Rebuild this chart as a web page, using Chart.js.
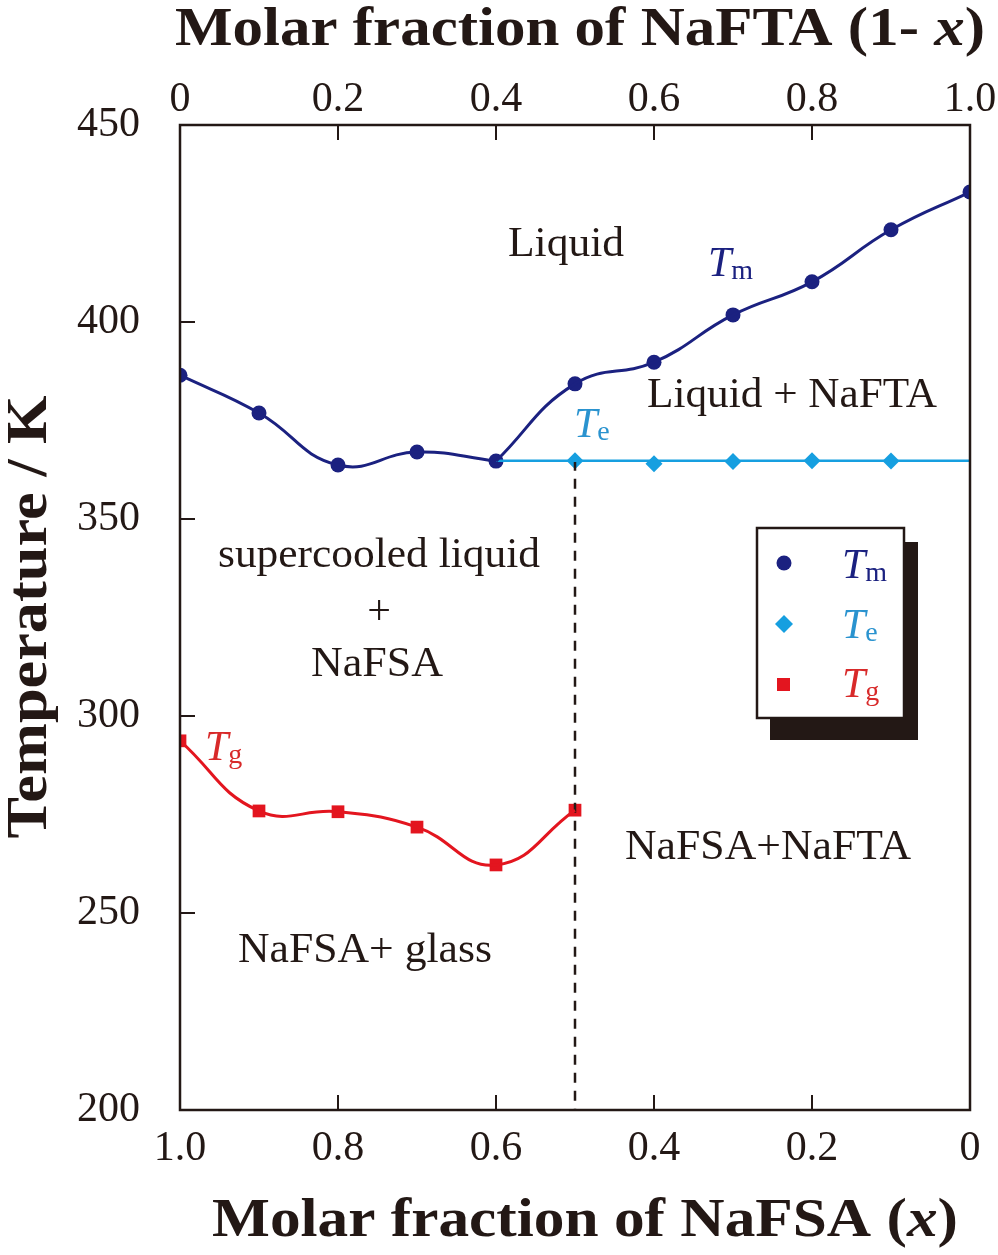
<!DOCTYPE html>
<html>
<head>
<meta charset="UTF-8">
<title>NaFSA-NaFTA phase diagram</title>
<style>
body{
	margin: 0;
	background-color: white;
}
#wrap{
	width: 998px;
	height: 1255px;
}
</style>
</head>
<body>
<div id="wrap"><canvas id="myChart"></canvas></div>
<script src="https://cdn.jsdelivr.net/npm/chart.js@4.4.1/dist/chart.umd.min.js"></script>
<script>
// x = molar fraction of NaFSA
const xTm = [1.0, 0.9, 0.8, 0.7, 0.6, 0.5, 0.4, 0.3, 0.2, 0.1, 0.0];
const tm = [386.5, 376.9, 363.7, 367.0, 364.7, 384.3, 389.8, 401.8, 410.2, 423.4, 433.0];
const xTe = [0.5, 0.4, 0.3, 0.2, 0.1];
const te = [364.8, 364.0, 364.6, 364.8, 364.7];
const teLineX = [0.6, 0.0];
const teLevel = 364.8;
const xTg = [1.0, 0.9, 0.8, 0.7, 0.6, 0.5];
const tg = [293.7, 275.9, 275.7, 271.8, 262.2, 276.1];
const dashX = 0.5;
const dashY = [364.8, 200];
const xTicks = [0, 0.2, 0.4, 0.6, 0.8, 1.0];
const yTicks = [200, 250, 300, 350, 400, 450];

const navy = '#1b2180';
const sky = '#169fe0';
const red = '#e3151f';
const ink = '#231815';
const serif = '"Liberation Serif", "Times New Roman", serif';

function pts(xs, ys){
	return xs.map(function(x, i){ return {x: x, y: ys[i]}; });
}
function fmt(v){
	if(v == 0) return '0';
	return Number(v).toFixed(1);
}

// draws runs of text; if width is given, squeezes/stretches to that width
function drawRuns(ctx, runs, x, y, align, width){
	let w = 0;
	runs.forEach(function(r){ ctx.font = r.font; r.w = ctx.measureText(r.t).width; w += r.w; });
	let sx = width ? width / w : 1;
	ctx.save();
	ctx.translate(x, y);
	ctx.scale(sx, 1);
	let cx = align == 'center' ? -w / 2 : 0;
	ctx.textBaseline = 'alphabetic';
	ctx.textAlign = 'left';
	runs.forEach(function(r){
		ctx.font = r.font;
		ctx.fillStyle = r.color || ink;
		ctx.fillText(r.t, cx, r.dy || 0);
		cx += r.w;
	});
	ctx.restore();
}

function sym(ctx, main, sub, x, y, color){
	drawRuns(ctx, [
		{t: main, font: 'italic 42px ' + serif, color: color},
		{t: sub, font: '28px ' + serif, color: color, dy: 3}
	], x, y, 'left');
}

const decor = {
	id: 'decor',
	afterDatasetsDraw(chart){
		const ctx = chart.ctx;
		const a = chart.chartArea;
		const sx = chart.scales.x, s2 = chart.scales.x2, sy = chart.scales.y;
		ctx.save();
		ctx.strokeStyle = ink;
		ctx.lineWidth = 2.5;
		ctx.strokeRect(a.left, a.top, a.right - a.left, a.bottom - a.top);
		ctx.lineWidth = 2;
		ctx.beginPath();
		xTicks.forEach(function(v){
			if(v == 0 || v == 1) return;
			let px = sx.getPixelForValue(v);
			ctx.moveTo(px, a.bottom); ctx.lineTo(px, a.bottom - 15);
			let qx = s2.getPixelForValue(v);
			ctx.moveTo(qx, a.top); ctx.lineTo(qx, a.top + 15);
		});
		yTicks.forEach(function(v){
			if(v == 200 || v == 450) return;
			let py = sy.getPixelForValue(v);
			ctx.moveTo(a.left, py); ctx.lineTo(a.left + 15, py);
		});
		ctx.stroke();

		// region labels
		const reg = '42px ' + serif;
		drawRuns(ctx, [{t: 'Liquid', font: reg}], 566, 256, 'center', 116);
		drawRuns(ctx, [{t: 'Liquid + NaFTA', font: reg}], 792, 407, 'center', 290);
		drawRuns(ctx, [{t: 'supercooled liquid', font: reg}], 379, 567, 'center', 322);
		drawRuns(ctx, [{t: '+', font: reg}], 379, 624, 'center');
		drawRuns(ctx, [{t: 'NaFSA', font: reg}], 377, 676, 'center', 132);
		drawRuns(ctx, [{t: 'NaFSA+ glass', font: reg}], 365, 962, 'center', 254);
		drawRuns(ctx, [{t: 'NaFSA+NaFTA', font: reg}], 768, 859, 'center', 286);

		sym(ctx, 'T', 'm', 708, 276, navy);
		sym(ctx, 'T', 'e', 574, 437, '#2a93cf');
		sym(ctx, 'T', 'g', 205, 760, '#d82a2a');

		// legend box with shadow
		ctx.fillStyle = ink;
		ctx.fillRect(770, 542, 148, 198);
		ctx.fillStyle = 'white';
		ctx.fillRect(757, 528, 147, 190);
		ctx.lineWidth = 2.5;
		ctx.strokeStyle = ink;
		ctx.strokeRect(757, 528, 147, 190);
		ctx.fillStyle = navy;
		ctx.beginPath(); ctx.arc(784, 563, 7.5, 0, Math.PI * 2); ctx.fill();
		ctx.fillStyle = sky;
		ctx.beginPath();
		ctx.moveTo(784, 615); ctx.lineTo(793, 624); ctx.lineTo(784, 633); ctx.lineTo(775, 624);
		ctx.closePath(); ctx.fill();
		ctx.fillStyle = red;
		ctx.fillRect(777, 678, 13, 13);
		sym(ctx, 'T', 'm', 842, 578, navy);
		sym(ctx, 'T', 'e', 842, 638, '#2a93cf');
		sym(ctx, 'T', 'g', 842, 697, '#d82a2a');

		// axis titles
		const bold = 'bold 54px ' + serif;
		const boldIt = 'italic bold 54px ' + serif;
		drawRuns(ctx, [
			{t: 'Molar fraction of NaFTA (1- ', font: bold},
			{t: 'x', font: boldIt},
			{t: ')', font: bold}
		], 580, 45, 'center', 810);
		drawRuns(ctx, [
			{t: 'Molar fraction of NaFSA (', font: bold},
			{t: 'x', font: boldIt},
			{t: ')', font: bold}
		], 585, 1236, 'center', 746);
		ctx.save();
		ctx.translate(46, 617);
		ctx.rotate(-Math.PI / 2);
		drawRuns(ctx, [{t: 'Temperature / K', font: 'bold 58px ' + serif}], 0, 0, 'center', 443);
		ctx.restore();
		ctx.restore();
	}
};

function noSidePad(s){
	s.paddingLeft = 0;
	s.paddingRight = 0;
}

Chart.defaults.font.family = serif;
Chart.defaults.color = ink;

const ctx = document.getElementById('myChart').getContext('2d');
const chart = new Chart(ctx, {
	type: 'scatter',
	data: {
		datasets: [
			{ // Tm curve, NaFSA-rich side
				type: 'line',
				data: pts(xTm.slice(0, 5), tm.slice(0, 5)),
				borderColor: navy, borderWidth: 3, pointRadius: 0, tension: 0.45, fill: false
			},
			{ // Tm curve, NaFTA-rich side
				type: 'line',
				data: pts(xTm.slice(4), tm.slice(4)),
				borderColor: navy, borderWidth: 3, pointRadius: 0, tension: 0.45, fill: false
			},
			{ // eutectic line
				type: 'line',
				data: pts(teLineX, [teLevel, teLevel]),
				borderColor: sky, borderWidth: 2.5, pointRadius: 0, fill: false
			},
			{ // Tg curve
				type: 'line',
				data: pts(xTg, tg),
				borderColor: red, borderWidth: 3, pointRadius: 0, tension: 0.45, fill: false
			},
			{ // dashed line at x = 0.5
				type: 'line',
				data: pts([dashX, dashX], dashY),
				borderColor: ink, borderWidth: 2.5, borderDash: [10, 8], pointRadius: 0, fill: false
			},
			{
				label: 'Tm',
				data: pts(xTm, tm),
				pointStyle: 'circle', pointRadius: 7.5, backgroundColor: navy, borderWidth: 0
			},
			{
				label: 'Te',
				data: pts(xTe, te),
				pointStyle: 'rectRot', pointRadius: 8.5, backgroundColor: sky, borderWidth: 0
			},
			{
				label: 'Tg',
				data: pts(xTg, tg),
				pointStyle: 'rect', pointRadius: 9, backgroundColor: red, borderWidth: 0
			}
		]
	},
	options: {
		responsive: true,
		maintainAspectRatio: false,
		animation: false,
		layout: {padding: {left: 0, right: 28, top: 0, bottom: 0}},
		plugins: {legend: {display: false}, tooltip: {enabled: false}},
		scales: {
			x: {
				type: 'linear', position: 'bottom', reverse: true, min: 0, max: 1,
				grid: {display: false, drawTicks: false},
				border: {display: false},
				afterBuildTicks: function(s){ s.ticks = xTicks.map(function(v){ return {value: v}; }); },
				afterFit: function(s){ s.height = 145; noSidePad(s); },
				ticks: {font: {size: 42}, padding: 14, maxRotation: 0, callback: fmt}
			},
			x2: {
				type: 'linear', position: 'top', min: 0, max: 1,
				grid: {display: false, drawTicks: false},
				border: {display: false},
				afterBuildTicks: function(s){ s.ticks = xTicks.map(function(v){ return {value: v}; }); },
				afterFit: function(s){ s.height = 125; noSidePad(s); },
				ticks: {font: {size: 42}, padding: 0, maxRotation: 0, callback: fmt}
			},
			y: {
				type: 'linear', min: 200, max: 450,
				grid: {display: false, drawTicks: false},
				border: {display: false},
				afterBuildTicks: function(s){ s.ticks = yTicks.map(function(v){ return {value: v}; }); },
				afterFit: function(s){ s.width = 180; },
				ticks: {font: {size: 42}, padding: 40}
			}
		}
	},
	plugins: [decor]
});
</script>
</body>
</html>
